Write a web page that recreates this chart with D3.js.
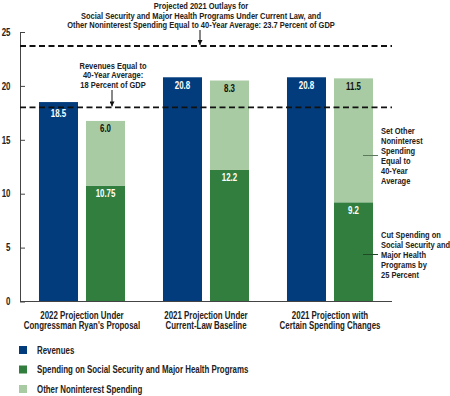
<!DOCTYPE html>
<html>
<head>
<meta charset="utf-8">
<script src="https://cdn.jsdelivr.net/npm/d3@7"></script>
<style>
  body { margin: 0; background: #fff; }
  svg text { font-family: "Liberation Sans", Arial, sans-serif; font-weight: bold; fill: #222; }
</style>
</head>
<body>
<div id="chart"></div>
<script>
// data
const categories = [
  ["2022 Projection Under", "Congressman Ryan's Proposal"],
  ["2021 Projection Under", "Current-Law Baseline"],
  ["2021 Projection with", "Certain Spending Changes"]
];
const revenues = [18.5, 20.8, 20.8];
const majorHealth = [10.75, 12.2, 9.2];
const otherSpending = [6.0, 8.3, 11.5];
const revenueLabels = ["18.5", "20.8", "20.8"];
const healthLabels = ["10.75", "12.2", "9.2"];
const otherLabels = ["6.0", "8.3", "11.5"];
const yTicks = [0, 5, 10, 15, 20, 25];
const refOutlays = 23.7;
const refRevenues = 18;
const legendNames = ["Revenues", "Spending on Social Security and Major Health Programs", "Other Noninterest Spending"];

const colors = { rev: "#023c7c", health: "#327e3e", other: "#a9cba3" };
const SX = 0.79; // squeeze text horizontally, the original uses a condensed face

const W = 450, H = 396;
const svg = d3.select("#chart").append("svg")
  .attr("width", W).attr("height", H)
  .attr("viewBox", `0 0 ${W} ${H}`);

const x = d3.scaleBand().domain(d3.range(3)).range([20, 392]);
const sub = d3.scaleBand().domain(["rev", "spend"]).range([0, x.bandwidth()])
  .paddingInner(0.17).paddingOuter(0.404);
const y = d3.scaleLinear().domain([0, 25]).range([301.5, 32]);

// condensed multi-line text block
function ctext(parent, lines, cx, y0, dy, anchor, size, fill){
  const g = parent.append("g").attr("transform", `translate(${cx},${y0}) scale(${SX},1)`);
  const t = g.append("text").attr("text-anchor", anchor).style("font-size", size + "px");
  if (fill) t.style("fill", fill);
  lines.forEach((s, k) => t.append("tspan").attr("x", 0).attr("y", k * dy).text(s));
  return g;
}

// axis
const yAxis = svg.append("g")
  .attr("transform", "translate(20,0)")
  .call(d3.axisLeft(y).tickValues(yTicks).tickSize(-5).tickSizeOuter(0).tickPadding(9));
yAxis.selectAll("path, line").attr("stroke", "#444");
yAxis.selectAll("text")
  .attr("x", -9.5 / SX)
  .attr("transform", `scale(${SX},1)`)
  .style("font-size", "10px").style("font-family", "Liberation Sans, Arial, sans-serif")
  .style("font-weight", "bold").attr("fill", "#222");

// bars
const groups = svg.append("g").selectAll("g")
  .data(d3.range(3)).enter().append("g")
  .attr("transform", i => `translate(${x(i)},0)`);

groups.append("rect")
  .attr("x", sub("rev")).attr("width", sub.bandwidth())
  .attr("y", i => y(revenues[i])).attr("height", i => y(0) - y(revenues[i]))
  .attr("fill", colors.rev);

groups.append("rect")
  .attr("x", sub("spend")).attr("width", sub.bandwidth())
  .attr("y", i => y(majorHealth[i])).attr("height", i => y(0) - y(majorHealth[i]))
  .attr("fill", colors.health);

groups.append("rect")
  .attr("x", sub("spend")).attr("width", sub.bandwidth())
  .attr("y", i => y(majorHealth[i] + otherSpending[i]))
  .attr("height", i => y(majorHealth[i]) - y(majorHealth[i] + otherSpending[i]))
  .attr("fill", colors.other);

// baseline
svg.append("line").attr("x1", 20).attr("x2", 392).attr("y1", y(0)).attr("y2", y(0))
  .attr("stroke", "#444").attr("stroke-width", 1);

// value labels, pushed below a dashed line when they would sit on it
function labelY(top){
  let ly = top + 11.5;
  const ref = y(refRevenues);
  if (ref > top && ref < top + 14) ly = ref + 10;
  return ly;
}
function addLabels(xKey, tops, texts, fill){
  groups.each(function(i){
    ctext(d3.select(this), [texts[i]], sub(xKey) + sub.bandwidth() / 2, labelY(y(tops[i])), 0, "middle", 10, fill);
  });
}
addLabels("rev", revenues, revenueLabels, "#fff");
addLabels("spend", majorHealth, healthLabels, "#fff");
addLabels("spend", majorHealth.map((v, i) => v + otherSpending[i]), otherLabels, "#111");

// dashed reference lines
[refOutlays, refRevenues].forEach(v => {
  svg.append("line").attr("x1", 20).attr("x2", 392).attr("y1", y(v)).attr("y2", y(v))
    .attr("stroke", "#111").attr("stroke-width", 1.8).attr("stroke-dasharray", "6,3.5");
});

// arrow marker
svg.append("defs").append("marker")
  .attr("id", "arrow").attr("viewBox", "0 0 10 10")
  .attr("refX", 10).attr("refY", 5)
  .attr("markerWidth", 5).attr("markerHeight", 5)
  .attr("orient", "auto")
  .append("path").attr("d", "M0,0L10,5L0,10z").attr("fill", "#111");

// top annotation
ctext(svg, [
  "Projected 2021 Outlays for",
  "Social Security and Major Health Programs Under Current Law, and",
  "Other Noninterest Spending Equal to 40-Year Average: 23.7 Percent of GDP"
], 201, 9, 9.7, "middle", 9.5);
svg.append("line").attr("x1", 200).attr("x2", 200).attr("y1", 30).attr("y2", y(refOutlays) - 1)
  .attr("stroke", "#111").attr("marker-end", "url(#arrow)");

// revenue annotation
ctext(svg, ["Revenues Equal to", "40-Year Average:", "18 Percent of GDP"], 113, 68.5, 10, "middle", 9.5);
svg.append("line").attr("x1", 112).attr("x2", 112).attr("y1", 90).attr("y2", y(refRevenues) - 1)
  .attr("stroke", "#111").attr("marker-end", "url(#arrow)");

// right-hand notes
ctext(svg, ["Set Other", "Noninterest", "Spending", "Equal to", "40-Year", "Average"], 381, 133.5, 10.2, "start", 9.5);
svg.append("line").attr("x1", 363).attr("x2", 378).attr("y1", 155.5).attr("y2", 155.5)
  .attr("stroke", "#5d7a5d").attr("stroke-width", 1);
ctext(svg, ["Cut Spending on", "Social Security and", "Major Health", "Programs by", "25 Percent"], 381, 237.5, 10.2, "start", 9.5);
svg.append("line").attr("x1", 363).attr("x2", 378).attr("y1", 254.5).attr("y2", 254.5)
  .attr("stroke", "#1f4a26").attr("stroke-width", 1);

// category labels
categories.forEach((lines, i) => {
  ctext(svg, lines, x(i) + x.bandwidth() / 2, 318.5, 11, "middle", 10);
});

// legend
const legend = svg.append("g").selectAll("g")
  .data(legendNames).enter().append("g")
  .attr("transform", (d, i) => `translate(19,${346 + i * 19.5})`);
legend.append("rect").attr("width", 8).attr("height", 8)
  .attr("fill", (d, i) => [colors.rev, colors.health, colors.other][i]);
legend.each(function(d){
  ctext(d3.select(this), [d], 18, 7.8, 0, "start", 10);
});
</script>
</body>
</html>
